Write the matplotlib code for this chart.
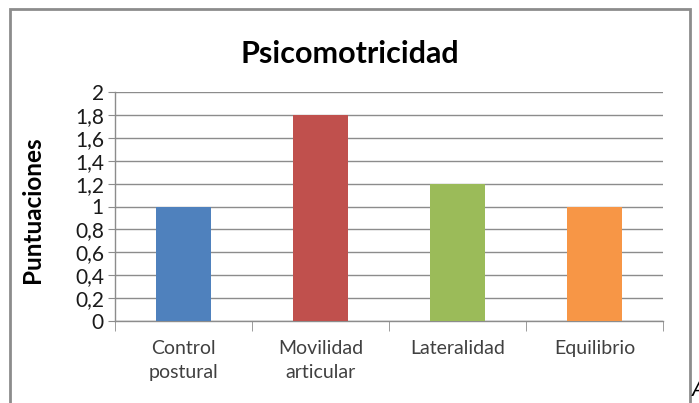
import numpy as np
import matplotlib.pyplot as plt
from matplotlib.patches import Rectangle
from matplotlib.ticker import FixedLocator, FuncFormatter

plt.rcParams['font.family'] = ['Lato', 'DejaVu Sans']

# datos
categorias = ["Control\npostural", "Movilidad\narticular", "Lateralidad", "Equilibrio"]
puntuaciones = [1.0, 1.8, 1.2, 1.0]
colores = ["#4F81BD", "#C0504D", "#9BBB59", "#F79646"]
y_ticks = [0, 0.2, 0.4, 0.6, 0.8, 1.0, 1.2, 1.4, 1.6, 1.8, 2.0]

W, H = 699, 403
fig = plt.figure(figsize=(W / 100, H / 100), dpi=100)
fig.patch.set_facecolor('white')

# marco del grafico (estilo Excel)
fig.patches.append(Rectangle((10 / W, -0.05), 680 / W, 1.05 - 9 / H,
                             transform=fig.transFigure, fill=False,
                             edgecolor='#8c8c8c', linewidth=2))

ax = fig.add_axes([115 / W, 1 - 321 / H, 548 / W, 229 / H])
x = np.arange(len(categorias))
ax.bar(x, puntuaciones, width=0.4, color=colores, zorder=3)

ax.set_xlim(-0.5, len(categorias) - 0.5)
ax.set_ylim(0, 2)
ax.set_yticks(y_ticks)
ax.yaxis.set_major_formatter(FuncFormatter(lambda v, p: f"{v:g}".replace('.', ',')))
ax.grid(True, axis='y', color='#8c8c8c', linewidth=1, zorder=0)

for s in ['top', 'right']:
    ax.spines[s].set_visible(False)
for s in ['left', 'bottom']:
    ax.spines[s].set_color('#8c8c8c')
    ax.spines[s].set_linewidth(1)

ax.tick_params(axis='y', length=5, color='#8c8c8c', labelsize=15, labelcolor='#1a1a1a', pad=3)
ax.set_xticks(x)
ax.set_xticklabels(categorias, fontsize=14, color='#404040', linespacing=1.5)
ax.tick_params(axis='x', which='major', length=0, pad=14)
ax.xaxis.set_minor_locator(FixedLocator(np.arange(-0.5, len(categorias), 1.0)))
ax.tick_params(axis='x', which='minor', length=7, color='#8c8c8c')
for lbl in ax.get_xticklabels():
    lbl.set_verticalalignment('top')

ax.set_ylabel("Puntuaciones", fontsize=17.5, fontweight='bold', va='center')
ax.yaxis.set_label_coords(-0.15, 0.485)

fig.text(350 / W, 1 - 63 / H, "Psicomotricidad", fontsize=22, fontweight='bold',
         ha='center', va='baseline')
fig.text(692 / W, 1 - 400 / H, "A", fontsize=16, style='italic', ha='left', va='bottom')

fig.savefig("out.png", dpi=100)
